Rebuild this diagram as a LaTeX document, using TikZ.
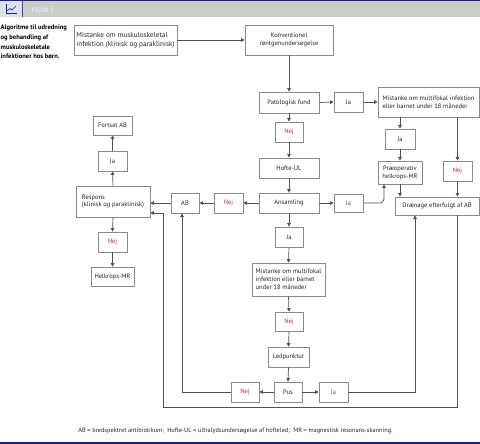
\documentclass[tikz,border=0pt]{standalone}
\usepackage{fontspec}
\setmainfont{PT Sans}
\usetikzlibrary{arrows.meta}
\definecolor{nejc}{HTML}{B02A5A}
\definecolor{jac}{HTML}{2E7D32}
\definecolor{boxc}{HTML}{8A8A8A}
\definecolor{linec}{HTML}{505050}
\definecolor{topblue}{HTML}{1C1C8C}
\definecolor{band}{HTML}{C9CDC6}
\definecolor{iconbg}{HTML}{DCE0EC}
\begin{document}
\begin{tikzpicture}[x=1pt,y=-1pt,
  bx/.style={draw=boxc, line width=0.8pt, fill=white, inner sep=1pt,
    font=\fontsize{6.5}{7.8}\selectfont, text=black!85},
  sz/.style 2 args={minimum width=#1pt, minimum height=#2pt},
  nej/.style={bx, text=nejc},
  jag/.style={bx, text=jac},
  conn/.style={draw=linec, line width=0.7pt, -{Triangle[length=3.5pt,width=3.5pt]}},
  plain/.style={draw=linec, line width=0.7pt}
]
\useasboundingbox (0,0) rectangle (480,444);
\fill[white] (0,0) rectangle (480,444);
% header
\fill[band] (0,1.5) rectangle (480,17);
\fill[topblue] (0,0) rectangle (480,1.5);
\fill[topblue] (0,441.5) rectangle (480,444);
\fill[iconbg] (0,1.5) rectangle (22,17);
\draw[topblue!80, line width=0.6pt] (22,1.5) -- (22,17);
\draw[topblue, line width=0.6pt] (6,4.5) -- (6,13) -- (17,13);
\draw[topblue, line width=0.6pt] (7,11) -- (10,8.5) -- (12,10) -- (16,6);
\node[anchor=west, text=white!92!black, font=\fontsize{6.5}{7}\selectfont\bfseries] (fig) at (28,10) {FIGUR 2};
% title
\node[anchor=north west, inner sep=0pt, align=left, font=\fontsize{6.6}{9.6}\selectfont\bfseries] (title) at (0.5,25)
  {Algoritme til udredning\\og behandling af\\muskuloskeletale\\infektioner hos børn.};
% nodes
\node[bx, sz={103}{30}, align=left, font=\fontsize{7.2}{9}\selectfont] (m1) at (125.5,40) {Mistanke om muskuloskeletal\\infektion (klinisk og paraklinisk)};
\node[bx, sz={88}{30}, align=center] (kon) at (289,40) {Konventionel\\røntgenundersøgelse};
\node[bx, sz={60}{21}] (pat) at (289,102.5) {Patologisk fund};
\node[bx, sz={29}{20}] (ja1) at (348.5,102) {Ja};
\node[bx, sz={101}{30}, align=left] (mf1) at (428.5,102) {Mistanke om multifokal infektion\\eller barnet under 18 måneder};
\node[nej, sz={28}{20}] (nej1) at (289,132) {Nej};
\node[bx, sz={60}{20}] (hof) at (289,168) {Hofte-UL};
\node[bx, sz={60}{20}] (ans) at (289,203) {Ansamling};
\node[jag, sz={29}{18}] (ja2) at (348.5,203) {Ja};
\node[bx, sz={30}{20}] (ja3) at (400,139) {Ja};
\node[bx, sz={44}{23}, align=center] (pre) at (400,172.5) {Præoperativ\\helkrops-MR};
\node[nej, sz={29}{20}] (nej2) at (457.5,171) {Nej};
\node[bx, sz={84}{18}] (dra) at (437,206) {Drænage efterfulgt af AB};
\node[nej, sz={29}{20}] (nej3) at (228.5,203) {Nej};
\node[bx, sz={28}{20}] (ab) at (185,203) {AB};
\node[bx, sz={74}{31}, align=left] (resp) at (113,201.5) {Respons\\(klinisk og paraklinisk)};
\node[bx, sz={29}{20}] (ja4) at (112.5,161) {Ja};
\node[bx, sz={39}{19}] (fab) at (112.5,125.5) {Fortsat AB};
\node[nej, sz={29}{20}] (nej4) at (112.5,242) {Nej};
\node[bx, sz={43}{19}] (hmr) at (112.5,276.5) {Helkrops-MR};
\node[bx, sz={28}{20}] (ja5) at (289,237) {Ja};
\node[bx, sz={73}{33}, align=left] (mf2) at (288.5,279.5) {Mistanke om multifokal\\infektion eller barnet\\under 18 måneder};
\node[nej, sz={28}{19}] (nej5) at (289,321.5) {Nej};
\node[bx, sz={41}{20}] (led) at (288.5,357) {Ledpunktur};
\node[bx, sz={28}{20}] (pus) at (288,392) {Pus};
\node[nej, sz={28}{20}] (nej6) at (245,392) {Nej};
\node[jag, sz={29}{20}] (ja6) at (333.5,392) {Ja};
% footnote
\node[font=\fontsize{6.3}{7.5}\selectfont, text=black!85] (foot) at (235.5,431)
  {AB = bredspektret antibiotikum;\ \ Hofte-UL = ultralydsundersøgelse af hofteled;\ \ MR = magnestisk resonans-skanning.};
% helper coordinates
\coordinate (c1) at (384,203);
\coordinate (c2) at (182,392);
\coordinate (c3) at (415,392);
\coordinate (c4) at (457,407);
\coordinate (c5) at (163,407);
\coordinate (c6) at (163,213);
% connectors
\draw[conn] (m1.east) -- (kon.west);
\draw[conn] (kon.south) -- (pat.north);
\draw[conn] (pat.east) -- (ja1.west);
\draw[conn] (ja1.east) -- (mf1.west);
\draw[conn] (pat.south) -- (nej1.north);
\draw[conn] (nej1.south) -- (hof.north);
\draw[conn] (hof.south) -- (ans.north);
\draw[conn] (mf1.south -| ja3) -- (ja3.north);
\draw[conn] (ja3.south) -- (pre.north);
\draw[conn] (pre.south) -- (pre.south |- dra.north);
\draw[conn] (mf1.south -| nej2) -- (nej2.north);
\draw[conn] (nej2.south) -- (nej2.south |- dra.north);
\draw[conn, rounded corners=4pt] (ja2.east) -- (c1) -- (c1 |- pre.south);
\draw[conn] (ans.east) -- (ja2.west);
\draw[conn] (ans.west) -- (nej3.east);
\draw[conn] (nej3.west) -- (ab.east);
\draw[conn] (ab.west) -- (ab.west -| resp.east);
\draw[conn] (resp.north) -- (ja4.south);
\draw[conn] (ja4.north) -- (fab.south);
\draw[conn] (resp.south) -- (nej4.north);
\draw[conn] (nej4.south) -- (hmr.north);
\draw[conn] (ans.south) -- (ja5.north);
\draw[conn] (ja5.south) -- (mf2.north);
\draw[conn] (mf2.south) -- (nej5.north);
\draw[conn] (nej5.south) -- (led.north);
\draw[conn] (led.south) -- (pus.north);
\draw[conn] (pus.west) -- (nej6.east);
\draw[conn] (pus.east) -- (ja6.west);
\draw[conn] (nej6.west) -- (c2) -- (c2 |- ab.south);
\draw[conn] (ja6.east) -- (c3) -- (c3 |- dra.south);
\draw[conn] (c4 |- dra.south) -- (c4) -- (c5) -- (c6) -- (c6 -| resp.east);
\end{tikzpicture}
\end{document}
